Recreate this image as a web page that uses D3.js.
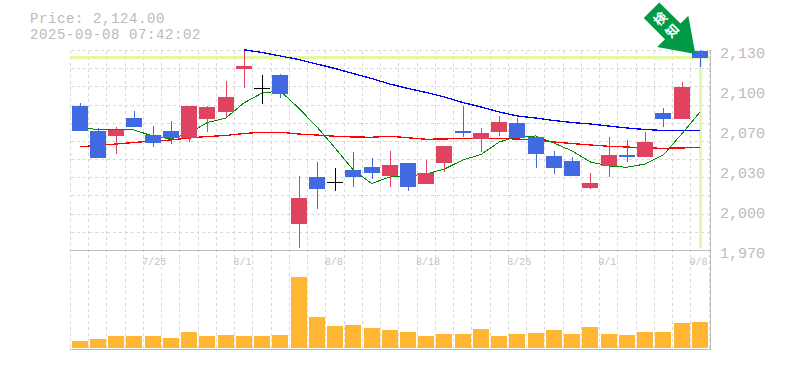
<!DOCTYPE html>
<html><head><meta charset="utf-8">
<script src="https://cdn.jsdelivr.net/npm/d3@7"></script>
<style>html,body{margin:0;padding:0;background:#fff}svg{display:block}</style></head>
<body><svg id="c" width="785" height="370"></svg>
<script>
const priceText = "Price: 2,124.00";
const timeText = "2025-09-08 07:42:02";
const opens  = [2085.2,2065.2,2061.2,2075.6,2062,2065.2,2059.6,2074.8,2080.4,2114.8,2100,2110,1990.8,2028.4,2024.4,2034,2036.4,2029.2,2039.6,2022.8,2039.6,2065.2,2058.8,2064.4,2071.6,2060.4,2045.2,2041.2,2019.6,2037.2,2046,2044.4,2079.6,2074.8,2129.2];
const closes = [2065.2,2043.6,2066,2068.4,2055.6,2059.6,2085.2,2084.4,2092.4,2117.2,2100,2094.8,2011.6,2018.8,2024.4,2028.4,2031.6,2038,2020.4,2031.6,2053.2,2063.6,2063.6,2072.4,2059.6,2046.8,2035.6,2029.2,2023.6,2046,2044.4,2056.4,2074.8,2100.4,2124];
const highs  = [2087.4,2067.6,2068.2,2081.2,2069.2,2073.2,2085.2,2085.2,2105.2,2129.4,2110,2110.8,2029.2,2040.4,2035.6,2048.4,2043.6,2049.2,2039.6,2042,2053.2,2085.2,2067.6,2077.2,2075.6,2060.4,2049.2,2044.4,2031.6,2060.4,2058,2064.4,2083.6,2104.4,2130];
const lows   = [2065.2,2043.6,2046.8,2068.4,2052.4,2054.8,2056.4,2064.4,2076.4,2099.6,2086.8,2091.6,1971.6,2002.8,2017.2,2020.4,2026.8,2020.4,2017.2,2022.8,2032.4,2060.4,2048.4,2061.2,2059.6,2035.6,2030.8,2029.2,2018.8,2028.4,2040.4,2044.4,2068.4,2074.8,2116.6];
const volumes = [70,90,120,120,120,100,160,120,130,120,120,130,710,310,220,230,200,180,160,120,140,140,190,120,140,150,180,140,210,140,130,160,160,250,260];
const maShort = [2068.4,2066.2,2066.4,2066,2061.2,2058.8,2063.6,2072,2075.4,2087.6,2095.6,2097.2,2083.6,2068.6,2051.6,2034,2023.2,2028.4,2029.2,2030.8,2034.8,2042,2046.4,2056.4,2060.8,2061.2,2055.6,2049.2,2040.4,2037.2,2036.2,2038.8,2046,2062.8,2080.2];
const maMid = [2052.6,2053.6,2054.8,2056,2057.2,2058,2059.6,2060.8,2061.6,2063.2,2064.2,2064.2,2062.8,2062,2061,2060.4,2060.2,2061,2059.8,2058.6,2058.8,2059.4,2059.4,2059.2,2058.8,2058,2056.4,2055.2,2054,2053,2052.4,2051.6,2051.4,2051.6,2052.2];
const maLong = [null,null,null,null,null,null,null,null,null,2130.2,2128,2125.2,2122.4,2118.8,2115.2,2111.2,2107.2,2102.8,2099.2,2096,2092.4,2088,2084.4,2080.4,2077.2,2075.6,2073.6,2072,2070.8,2069.2,2067.6,2066.4,2065.6,2065.6,2065.6];
const yTickValues = [2130,2098,2066,2034,2002,1970];
const yTickLabels = ["2,130","2,100","2,070","2,030","2,000","1,970"];
const dateIndex = [4,9,14,19,24,29,34];
const dateLabels = ["7/25","8/1","8/8","8/18","8/25","9/1","9/8"];
const lastClose = 2124;

const MONO = '"Liberation Mono", monospace';
const svg = d3.select("#c");
const L=70.5,R=709.5,T=50.5,MID=250.5,B=350;
const x = d3.scaleBand().domain(d3.range(opens.length)).range([L,709]);
const y = d3.scaleLinear().domain([1970,2130]).range([250,50]);
const yV = d3.scaleLinear().domain([0,710]).range([348,277]);
const cx = i => Math.round(x(i)+x.bandwidth()/2);
const W = 16;

// grid
const grid = svg.append("g").attr("stroke","#d8d8d8").attr("stroke-width",1).attr("stroke-dasharray","3,3").attr("shape-rendering","crispEdges");
d3.range(opens.length+1).forEach(i=>{
  const gx=Math.floor(L+i*x.step())+.5;
  grid.append("line").attr("x1",gx).attr("x2",gx).attr("y1",T).attr("y2",B);
});
const gy=d3.scaleLinear().domain([0,11]).range([T,MID]);
d3.range(11).forEach(i=>{
  const yy=Math.floor(gy(i))+.5;
  grid.append("line").attr("x1",L).attr("x2",R).attr("y1",yy).attr("y2",yy);
});

// highlight
const hl=svg.append("g").attr("stroke","#e4f7a8").attr("stroke-width",3);
hl.append("line").attr("x1",70).attr("x2",710).attr("y1",y(lastClose)).attr("y2",y(lastClose));
hl.append("line").attr("x1",cx(34)+.5).attr("x2",cx(34)+.5).attr("y1",y(lastClose)).attr("y2",248.5);

// frame
const fr=svg.append("g").attr("stroke","#bbb").attr("stroke-width",1).attr("shape-rendering","crispEdges");
fr.append("line").attr("x1",70).attr("x2",710).attr("y1",250.5).attr("y2",250.5);
fr.append("line").attr("x1",70).attr("x2",710).attr("y1",349.5).attr("y2",349.5);
fr.append("line").attr("x1",710.5).attr("x2",710.5).attr("y1",50).attr("y2",350);

// moving averages
const lineGen=d3.line().defined(d=>d!=null).x((d,i)=>x(i)+x.bandwidth()/2).y(d=>y(d));
[[maLong,"#00f",1.3],[maMid,"#f00",1.3],[maShort,"#080",1]].forEach(([s,c,w])=>{
  svg.append("path").attr("d",lineGen(s)).attr("fill","none").attr("stroke",c).attr("stroke-width",w).attr("shape-rendering","crispEdges");
});

// candles
const BLUE="#4169e1",RED="#e0435f";
const colour=i=>closes[i]>opens[i]?RED:closes[i]<opens[i]?BLUE:"#000";
const idx=d3.range(opens.length);
const cg=svg.append("g").attr("shape-rendering","crispEdges");
cg.selectAll("line.w").data(idx).join("line").attr("class","w")
  .attr("x1",i=>cx(i)+.5).attr("x2",i=>cx(i)+.5).attr("y1",i=>y(highs[i])).attr("y2",i=>y(lows[i]))
  .attr("stroke",colour);
cg.selectAll("rect").data(idx).join("rect")
  .attr("x",i=>cx(i)-8).attr("width",W)
  .attr("y",i=>Math.min(y(opens[i]),y(closes[i])))
  .attr("height",i=>Math.max(1,Math.abs(y(opens[i])-y(closes[i]))))
  .attr("fill",colour);

// volume
svg.append("g").selectAll("rect").data(idx).join("rect")
  .attr("x",i=>cx(i)-8).attr("width",W)
  .attr("y",i=>yV(volumes[i])).attr("height",i=>348-yV(volumes[i]))
  .attr("fill","#ffb733").attr("shape-rendering","crispEdges");

// axis text
const yAxis=d3.axisRight(y).tickValues(yTickValues).tickFormat((d,i)=>yTickLabels[i]).tickSize(0).tickPadding(0);
const ga=svg.append("g").attr("transform","translate(720,3)").call(yAxis);
ga.select(".domain").remove();
ga.selectAll("text").attr("font-family",MONO).attr("font-size",15).attr("fill","#bbb");

svg.append("g").selectAll("text").data(dateLabels).join("text")
  .attr("x",(d,i)=>x(dateIndex[i])-1.2).attr("y",265)
  .attr("font-family",MONO).attr("font-size",10).attr("fill","#c4c4c4").text(d=>d);

[[priceText,22.5],[timeText,38.5]].forEach(([t,yy])=>{
  svg.append("text").attr("x",30).attr("y",yy).attr("font-family",MONO).attr("font-size",14).attr("letter-spacing",0.6).attr("fill","#bbb").text(t);
});

// arrow
const tipX=x(34)+x.bandwidth()/2-4.5, tipY=y(lastClose)-3.5;
const ag=svg.append("g").attr("transform",`translate(${tipX},${tipY}) rotate(-45)`);
ag.append("path").attr("d","M0,0 L-22,-32 L-11,-32 L-11,-62 L11,-62 L11,-32 L22,-32 Z").attr("fill","#009944");
ag.append("text").attr("x",0).attr("y",-45).attr("text-anchor","middle").attr("font-family",'"Noto Sans CJK JP"').attr("font-size",13).attr("font-weight",700).attr("fill","#fff").text("検");
ag.append("text").attr("x",0).attr("y",-28).attr("text-anchor","middle").attr("font-family",'"Noto Sans CJK JP"').attr("font-size",13).attr("font-weight",700).attr("fill","#fff").text("知");
</script></body></html>
